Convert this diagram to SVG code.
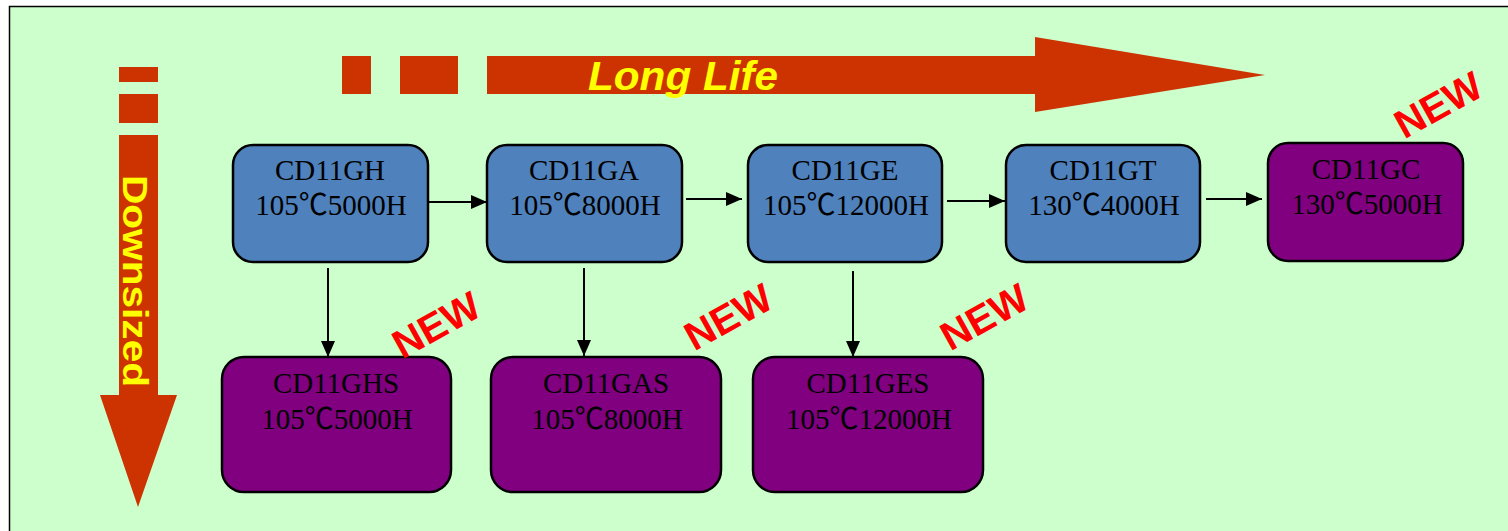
<svg xmlns="http://www.w3.org/2000/svg" width="1508" height="531" viewBox="0 0 1508 531">
<style>
.blue{fill:#4F81BD;stroke:#000;stroke-width:2.5}
.purple{fill:#800080;stroke:#000;stroke-width:2.5}
.nt{font-family:"Liberation Serif","Noto Sans CJK SC",serif;font-size:29px;fill:#000;text-anchor:middle}
.new{font-family:"Liberation Sans",Arial,sans-serif;font-weight:bold;font-size:40px;fill:#FF0000;text-anchor:middle}
.big{fill:#CC3300}
.lbl{font-family:"Liberation Sans",Arial,sans-serif;font-weight:bold;font-style:italic;fill:#FFFF00}
.lblv{font-family:"Liberation Sans",Arial,sans-serif;font-weight:bold;fill:#FFFF00}
.conn{stroke:#000;stroke-width:2;fill:none;marker-end:url(#ah)}
</style>
<defs>
<marker id="ah" viewBox="0 0 16 14" refX="16" refY="7" markerWidth="16" markerHeight="14" markerUnits="userSpaceOnUse" orient="auto">
<path d="M0,0 L16,7 L0,14 Z" fill="#000"/>
</marker>
</defs>
<rect x="0" y="0" width="1508" height="531" fill="#FFFFFF"/>
<rect x="9.5" y="6.5" width="1520" height="540" fill="#CCFFCC" stroke="#000" stroke-width="1.5"/>

<g id="long-life-arrow">
<rect class="big" x="342" y="56" width="29" height="38"/>
<rect class="big" x="400" y="56" width="58" height="38"/>
<polygon class="big" points="487,56 1035,56 1035,37 1265,75 1035,112 1035,94 487,94"/>
<text class="lbl" x="683" y="90" font-size="41" text-anchor="middle" textLength="190" lengthAdjust="spacingAndGlyphs">Long Life</text>
</g>

<g id="downsized-arrow">
<rect class="big" x="119" y="67" width="39" height="15"/>
<rect class="big" x="119" y="94" width="39" height="29"/>
<polygon class="big" points="119,135 158,135 158,395 177,395 138,507 100,395 119,395"/>
<text class="lblv" transform="translate(123,281) rotate(90)" x="0" y="0" font-size="35" text-anchor="middle" textLength="212" lengthAdjust="spacingAndGlyphs">Downsized</text>
</g>

<g id="connectors">
<line class="conn" x1="429" y1="202" x2="487" y2="202"/>
<line class="conn" x1="686" y1="199" x2="742" y2="199"/>
<line class="conn" x1="947" y1="201" x2="1005" y2="201"/>
<line class="conn" x1="1206" y1="199" x2="1262" y2="199"/>
<line class="conn" x1="328" y1="268" x2="328" y2="357"/>
<line class="conn" x1="584" y1="268" x2="584" y2="356"/>
<line class="conn" x1="853" y1="271" x2="853" y2="357"/>
</g>

<g id="CD11GH">
<rect class="blue" x="233" y="145" width="195" height="117" rx="20"/>
<text class="nt" x="330" y="180">CD11GH</text>
<text class="nt" x="331" y="215">105℃5000H</text>
</g>
<g id="CD11GA">
<rect class="blue" x="487" y="145" width="195" height="117" rx="20"/>
<text class="nt" x="584" y="180">CD11GA</text>
<text class="nt" x="585" y="215">105℃8000H</text>
</g>
<g id="CD11GE">
<rect class="blue" x="748" y="145" width="194" height="117" rx="20"/>
<text class="nt" x="845" y="180">CD11GE</text>
<text class="nt" x="846" y="215">105℃12000H</text>
</g>
<g id="CD11GT">
<rect class="blue" x="1006" y="145" width="194" height="117" rx="20"/>
<text class="nt" x="1103" y="180">CD11GT</text>
<text class="nt" x="1104" y="215">130℃4000H</text>
</g>
<g id="CD11GC">
<rect class="purple" x="1268" y="143" width="195" height="118" rx="20"/>
<text class="nt" x="1366" y="179">CD11GC</text>
<text class="nt" x="1367" y="214">130℃5000H</text>
</g>
<g id="CD11GHS">
<rect class="purple" x="222" y="357" width="229" height="135" rx="22"/>
<text class="nt" x="336" y="393">CD11GHS</text>
<text class="nt" x="337" y="429">105℃5000H</text>
</g>
<g id="CD11GAS">
<rect class="purple" x="491" y="357" width="230" height="135" rx="22"/>
<text class="nt" x="606" y="393">CD11GAS</text>
<text class="nt" x="607" y="429">105℃8000H</text>
</g>
<g id="CD11GES">
<rect class="purple" x="753" y="357" width="230" height="135" rx="22"/>
<text class="nt" x="868" y="393">CD11GES</text>
<text class="nt" x="869" y="429">105℃12000H</text>
</g>

<g id="new-labels">
<text class="new" transform="translate(443,337) rotate(-29)">NEW</text>
<text class="new" transform="translate(735,329) rotate(-29)">NEW</text>
<text class="new" transform="translate(991,329) rotate(-29)">NEW</text>
<text class="new" transform="translate(1445,117) rotate(-29)">NEW</text>
</g>
</svg>
